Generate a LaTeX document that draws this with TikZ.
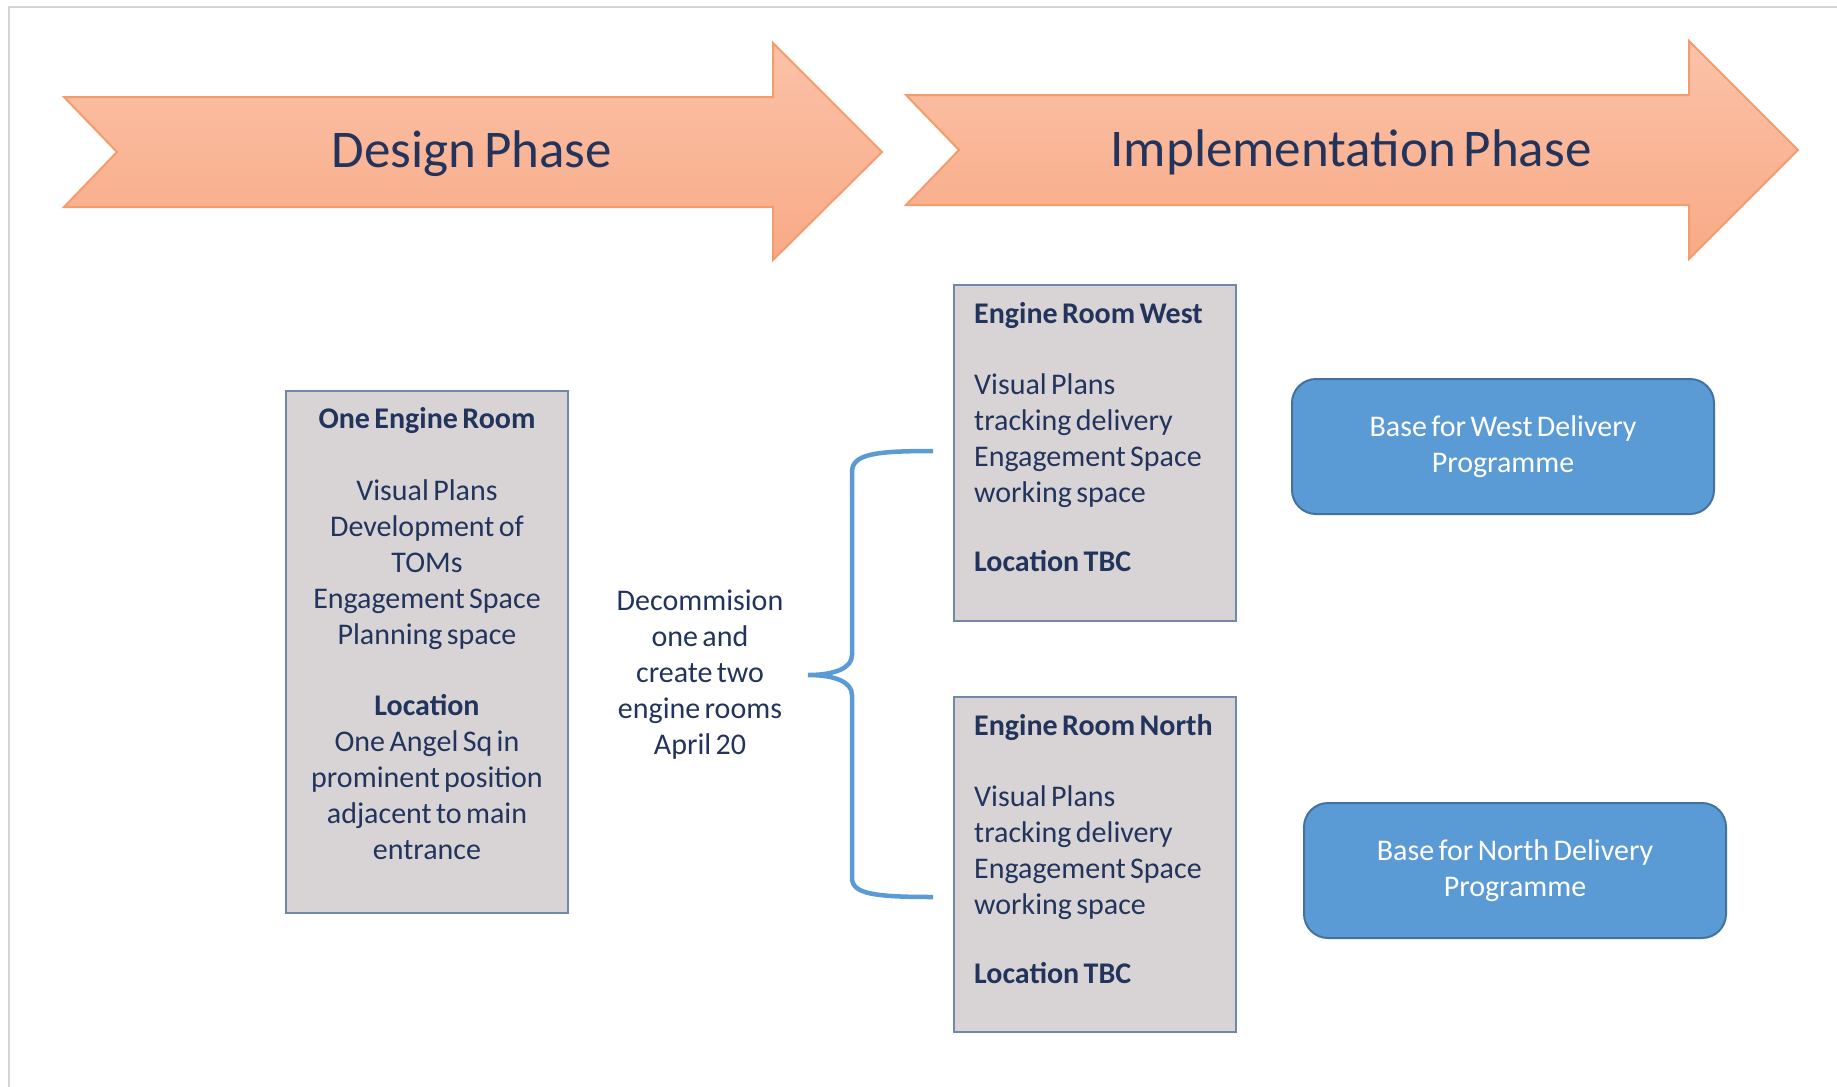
\documentclass[tikz,border=0pt]{standalone}
\usepackage{fontspec}
\setmainfont{Carlito}[WordSpace=0.65]
\definecolor{navy}{RGB}{35,52,92}
\definecolor{phasetop}{RGB}{251,194,168}
\definecolor{phasebot}{RGB}{248,170,134}
\definecolor{phaseedge}{RGB}{245,156,108}
\definecolor{roomgray}{RGB}{216,212,214}
\definecolor{roomedge}{RGB}{112,136,172}
\definecolor{baseblue}{RGB}{91,155,213}
\definecolor{baseedge}{RGB}{68,114,160}
\definecolor{braceblue}{RGB}{91,155,213}
\definecolor{framegray}{RGB}{212,212,212}

\def\bodyfont{\fontsize{30}{36}\selectfont}
\def\roomw{282}

\begin{document}
\begin{tikzpicture}[x=1pt, y=-1pt]
	\tikzset{phase/.style={draw=phaseedge, line width=2pt, top color=phasetop, bottom color=phasebot},
		phasetext/.style={font=\fontsize{53}{64}\selectfont, text=navy, anchor=base, inner sep=0pt},
		room/.style={draw=roomedge, fill=roomgray, line width=2pt, minimum width=\roomw pt, inner sep=0pt},
		roomtext/.style={font=\bodyfont, text=navy, inner sep=0pt},
		delivery/.style={draw=baseedge, fill=baseblue, line width=2pt, rounded corners=24pt, minimum width=422pt, minimum height=135pt, align=center, font=\bodyfont, text=white},
		brace/.style={draw=braceblue, line width=4.5pt}}
	\useasboundingbox (0,0) rectangle (1837,1087);
	\draw[framegray, line width=2pt] (1837,7) -- (9,7) -- (9,1087);
	% phase arrows
	\draw[phase] (64,97) -- (773,97) -- (773,43) -- (882,152) -- (773,260) -- (773,207) -- (64,207) -- (117,152) -- cycle;
	\node[phasetext] (design) at (472,167) {Design Phase};
	\draw[phase] (906,95) -- (1689,95) -- (1689,41) -- (1798,150) -- (1689,259) -- (1689,205) -- (906,205) -- (959,150) -- cycle;
	\node[phasetext] (impl) at (1351,166) {Implementation Phase};
	% engine rooms (text anchored on its last baseline)
	\node[room, minimum height=522pt] (one) at (427,652) {};
	\node[roomtext, align=center, anchor=base] (onetext) at (427,859) {\textbf{One Engine Room}\\[36pt] Visual Plans\\ Development of\\ TOMs\\ Engagement Space\\ Planning space\\[35pt] \textbf{Location}\\ One Angel Sq in\\ prominent position\\ adjacent to main\\ entrance};
	\node[room, minimum height=336pt] (west) at (1095,453) {};
	\node[roomtext, align=left, anchor=base west] (westtext) at (974,571) {\textbf{Engine Room West}\\[35pt] Visual Plans\\ tracking delivery\\ Engagement Space\\ working space\\[33pt] \textbf{Location TBC}};
	\node[room, minimum height=335pt] (north) at (1095,864.5) {};
	\node[roomtext, align=left, anchor=base west] (northtext) at (974,983) {\textbf{Engine Room North}\\[35pt] Visual Plans\\ tracking delivery\\ Engagement Space\\ working space\\[33pt] \textbf{Location TBC}};
	\node[roomtext, align=center, anchor=base] (decom) at (700,754) {Decommision\\ one and\\ create two\\ engine rooms\\ April 20};
	% brace
	\coordinate (bt) at (933,451);
	\coordinate (bm) at (808,675);
	\coordinate (bb) at (933,897);
	\draw[brace] (bt) .. controls (875,451) and (852,454) .. (852,472) -- (852,655) .. controls (852,668) and (835,675) .. (bm) .. controls (835,675) and (852,682) .. (852,695) -- (852,878) .. controls (852,894) and (875,897) .. (bb);
	% delivery bases
	\node[delivery] (westbase) at (1503,446.5) {Base for West Delivery\\ Programme};
	\node[delivery] (northbase) at (1515,870.5) {Base for North Delivery\\ Programme};
\end{tikzpicture}
\end{document}
